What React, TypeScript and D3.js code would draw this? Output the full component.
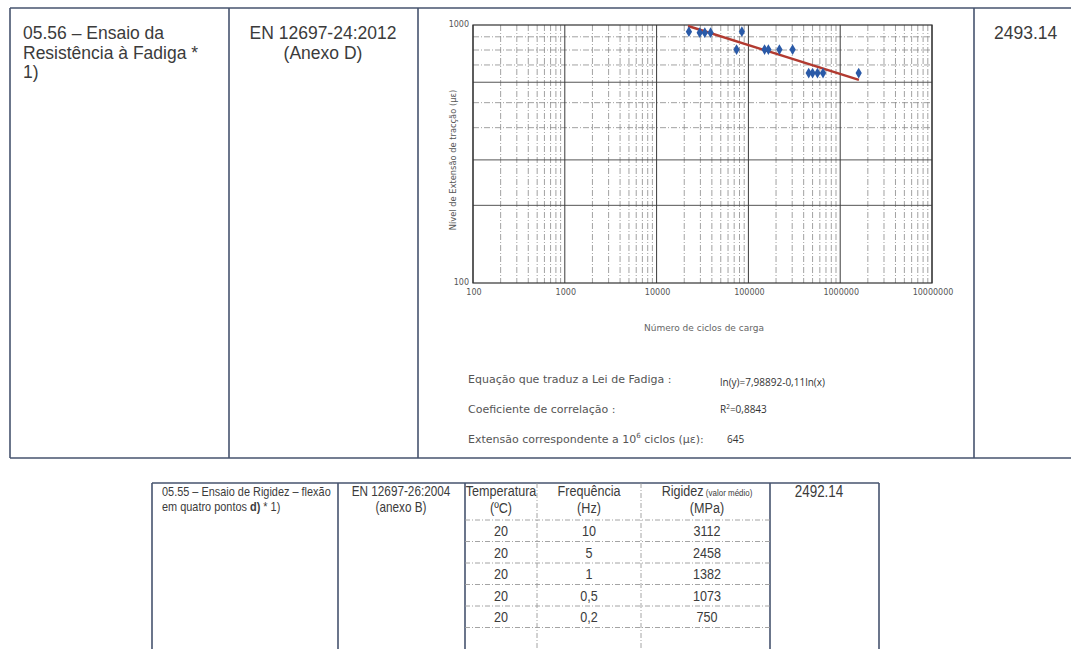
import React from 'react';
import * as d3 from 'd3';

const W = 1071;
const H = 649;

// pontos do ensaio de fadiga (ciclos, microextensão)
const cycles = [22500, 29500, 33500, 38700, 84900, 74300, 150000, 165000, 217700, 303000, 454000, 500000, 565000, 650000, 1590000];
const strains = [942, 934, 934, 934, 942, 803, 803, 803, 803, 803, 651, 651, 651, 651, 651];
// recta da lei de fadiga (extremos)
const trendCycles = [22000, 1600000];
const trendStrains = [991, 613];

const xTickLabels = ['100', '1000', '10000', '100000', '1000000', '10000000'];
const yTickLabels = ['100', '1000'];
const minorSteps = [2, 3, 4, 5, 6, 7, 8, 9];

const fatigueLabels = ['Equação que traduz a Lei de Fadiga :', 'Coeficiente de correlação :', 'Extensão correspondente a 10'];
const fatigueValues = ['ln(y)=7,98892-0,11ln(x)', 'R', '645'];

const topTest = ['05.56 – Ensaio da', 'Resistência à Fadiga *', '1)'];
const topNorm = ['EN 12697-24:2012', '(Anexo D)'];
const topCode = '2493.14';

const stiffTest = ['05.55 – Ensaio de Rigidez – flexão', 'em quatro pontos  '];
const stiffNorm = ['EN 12697-26:2004', '(anexo B)'];
const stiffHeaders = [['Temperatura', '(ºC)'], ['Frequência', '(Hz)'], ['Rigidez', '(MPa)']];
const temperatures = ['20', '20', '20', '20', '20'];
const frequencies = ['10', '5', '1', '0,5', '0,2'];
const stiffness = ['3112', '2458', '1382', '1073', '750'];
const stiffCode = '2492.14';

const LINE = '#46536e';
const TXT = '#3b3b3b';
const GOTHIC = "'DejaVu Sans', sans-serif";
const ARIAL = "'Liberation Sans', Arial, sans-serif";
const CALIBRI = "'Open Sans', 'Noto Sans', sans-serif";

const plot = { left: 473, right: 932, top: 25, bottom: 283 };

// texto "estreito" (Arial Narrow não existe: comprime na horizontal)
const NText = ({ x, y, anchor = 'start', children, size = 14 }: any) => (
  <text transform={`translate(${x},${y}) scale(0.84,1)`} textAnchor={anchor} fontSize={size}>{children}</text>
);

export default function App() {
  const x = d3.scaleLog().domain([100, 1e7]).range([plot.left, plot.right]);
  const y = d3.scaleLog().domain([100, 1000]).range([plot.bottom, plot.top]);

  const decades = xTickLabels.map(Number);
  const minorX: number[] = [];
  decades.slice(0, -1).forEach(d => minorSteps.forEach(k => minorX.push(d * k)));
  const minorY = minorSteps.map(k => k * 100);
  const strongY = [200, 300, 600];

  const points = cycles.map((c, i) => ({ c, s: strains[i] }));
  const trend = trendCycles.map((c, i) => [x(c), y(trendStrains[i])] as [number, number]);
  const diamond = d3.symbol().type(d3.symbolDiamond).size(34)();

  // linhas da tabela de rigidez
  const rows = d3.scaleBand<number>().domain(d3.range(frequencies.length)).range([520, 627.5]);
  const colCenters = [501, 589, 707];

  return (
    <div style={{ position: 'absolute', left: 0, top: 0 }}>
      <svg width={W} height={H} style={{ display: 'block', background: '#fff' }}>
        {/* tabela superior */}
        <g stroke={LINE} strokeWidth={1.6} fill="none">
          <line x1={10} x2={W} y1={8} y2={8} />
          <line x1={10} x2={W} y1={458} y2={458} />
          {[10, 229, 418, 974].map(v => <line key={v} x1={v} x2={v} y1={8} y2={458} />)}
        </g>
        <g fontFamily={ARIAL} fontSize={17.5} fill={TXT}>
          {topTest.map((t, i) => <text key={t} x={23} y={39 + i * 19.5}>{t}</text>)}
          {topNorm.map((t, i) => <text key={t} x={323} y={39 + i * 19.5} textAnchor="middle">{t}</text>)}
          <text x={994} y={39}>{topCode}</text>
        </g>

        {/* grelha do gráfico */}
        <g>
          {minorX.map(v => (
            <line key={'mx' + v} x1={x(v)} x2={x(v)} y1={plot.top} y2={plot.bottom}
              stroke="#8a8a8a" strokeWidth={0.8} strokeDasharray="6,2,1,2" />
          ))}
          {minorY.map(v => {
            const strong = strongY.includes(v);
            return (
              <line key={'my' + v} x1={plot.left} x2={plot.right} y1={y(v)} y2={y(v)}
                stroke={strong ? '#555' : '#8a8a8a'} strokeWidth={strong ? 1 : 0.8}
                strokeDasharray={strong ? undefined : '6,2,1,2'} />
            );
          })}
          {decades.map(v => (
            <line key={'dx' + v} x1={x(v)} x2={x(v)} y1={plot.top} y2={plot.bottom} stroke="#3a3a3a" strokeWidth={1} />
          ))}
          <rect x={plot.left} y={plot.top} width={plot.right - plot.left} height={plot.bottom - plot.top}
            fill="none" stroke="#333" strokeWidth={1.2} />
        </g>

        {/* eixos */}
        <g fontFamily={GOTHIC} fontSize={8} fill="#555">
          {xTickLabels.map(t => (
            <text key={t} x={x(+t) + 1} y={295} textAnchor="middle">{t}</text>
          ))}
          {yTickLabels.map(t => (
            <text key={t} x={469} y={y(+t) + 2} textAnchor="end">{t}</text>
          ))}
          <text x={704} y={331} textAnchor="middle" fontSize={9} fill="#666">Número de ciclos de carga</text>
          <text transform={`translate(456,${(plot.top + plot.bottom) / 2 + 6}) rotate(-90)`} textAnchor="middle" fontSize={8.3} fill="#555">
            Nível de Extensão de tracção (με)
          </text>
        </g>

        {/* recta de regressão e pontos */}
        <path d={d3.line()(trend) ?? ''} stroke="#b23a30" strokeWidth={2.4} fill="none" />
        {points.map((p, i) => (
          <path key={i} d={diamond ?? ''} transform={`translate(${x(p.c)},${y(p.s)})`} fill="#2a5aa8" />
        ))}

        {/* notas da lei de fadiga */}
        <g fontFamily={GOTHIC} fontSize={11} fill="#555">
          <text x={468} y={383}>{fatigueLabels[0]}</text>
          <text x={468} y={413}>{fatigueLabels[1]}</text>
          <text x={468} y={443}>{fatigueLabels[2]}<tspan dy={-5} fontSize={7}>6</tspan><tspan dy={5}> ciclos (με):</tspan></text>
        </g>
        <g fontFamily={CALIBRI} fontSize={10} fill="#333">
          <text x={720} y={386}>{fatigueValues[0]}</text>
          <text x={720} y={413}>{fatigueValues[1]}<tspan dy={-4} fontSize={6.5}>2</tspan><tspan dy={4}>=0,8843</tspan></text>
          <text x={727} y={443}>{fatigueValues[2]}</text>
        </g>

        {/* tabela inferior */}
        <g stroke={LINE} strokeWidth={1.6} fill="none">
          <line x1={152} x2={879} y1={483} y2={483} />
          {[152, 338, 465, 770, 879].map(v => <line key={v} x1={v} x2={v} y1={483} y2={H} />)}
        </g>
        <g stroke="#9a9a9a" strokeWidth={0.9} strokeDasharray="5,2,1,2" fill="none">
          {[537, 641].map(v => <line key={v} x1={v} x2={v} y1={483} y2={H} />)}
          {d3.range(frequencies.length + 1).map(i => {
            const yy = i < frequencies.length ? rows(i) ?? 0 : rows.range()[1];
            return <line key={i} x1={465} x2={770} y1={yy} y2={yy} />;
          })}
        </g>
        <g fontFamily={ARIAL} fill={TXT}>
          <NText x={162} y={496} size={13}>{stiffTest[0]}</NText>
          <NText x={162} y={511} size={13}>{stiffTest[1]}<tspan fontWeight="bold">d)</tspan> * 1)</NText>
          {stiffNorm.map((t, i) => <NText key={t} x={401} y={496 + i * 16} anchor="middle" size={14}>{t}</NText>)}
          {stiffHeaders.map((h, i) => (
            <g key={h[0]}>
              <NText x={colCenters[i]} y={496} anchor="middle" size={15}>
                {h[0]}{i === 2 ? <tspan fontSize={9.5}> (valor médio)</tspan> : null}
              </NText>
              <NText x={colCenters[i]} y={513} anchor="middle" size={15}>{h[1]}</NText>
            </g>
          ))}
          {frequencies.map((f, i) => {
            const cy = (rows(i) ?? 0) + rows.bandwidth() / 2 + 5.5;
            return (
              <g key={i}>
                <NText x={colCenters[0]} y={cy} anchor="middle" size={15}>{temperatures[i]}</NText>
                <NText x={colCenters[1]} y={cy} anchor="middle" size={15}>{f}</NText>
                <NText x={colCenters[2]} y={cy} anchor="middle" size={15}>{stiffness[i]}</NText>
              </g>
            );
          })}
          <NText x={819} y={497} anchor="middle" size={16}>{stiffCode}</NText>
        </g>
      </svg>
    </div>
  );
}
